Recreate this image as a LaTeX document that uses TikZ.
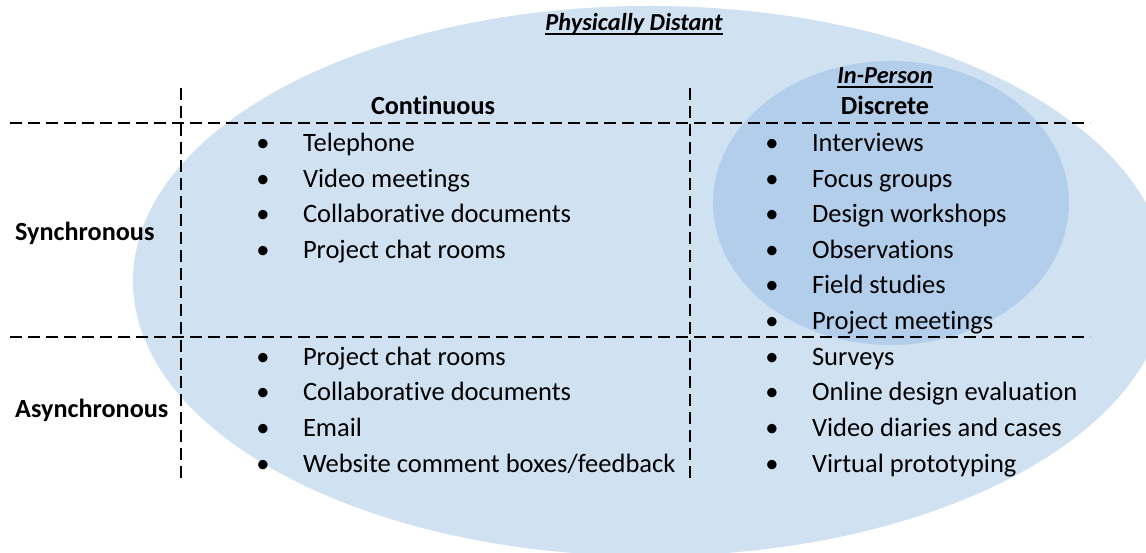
\documentclass[tikz,border=0pt]{standalone}
\usepackage{fontspec}
\setmainfont{Carlito}[Ligatures=NoCommon]

\definecolor{DistantBlue}{HTML}{D0E1F2}
\definecolor{PersonBlue}{HTML}{B2CEEA}

% underlined set name, rule a little below the baseline
\newcommand{\setunder}[1]{\setbox0\hbox{#1}\rlap{\rule[-3.6pt]{\wd0}{2pt}}\box0}

\begin{document}
\begin{tikzpicture}[x=1pt,y=-1pt]
  \tikzset{ItemStyle/.style = {
    anchor        = base west,
    inner sep     = 0pt,
    outer sep     = 0pt,
    text          = black,
    font          = \fontsize{26.5}{31}\selectfont,
    execute at begin node = {\makebox[0pt]{\textbullet}\hspace{40pt}}
    }
  }
  \tikzset{HeadStyle/.style = {
    anchor        = base,
    inner sep     = 0pt,
    text          = black,
    font          = \bfseries\fontsize{26.2}{31}\selectfont
    }
  }
  \tikzset{SideStyle/.style = {
    HeadStyle,
    anchor        = base west
    }
  }
  \tikzset{SetStyle/.style = {
    HeadStyle,
    font          = \bfseries\itshape\fontsize{24.4}{29}\selectfont
    }
  }
  \tikzset{GridStyle/.style = {
    draw          = black,
    line width    = 2pt,
    dash pattern  = on 12pt off 6pt
    }
  }

  \useasboundingbox (0,0) rectangle (1146,553);
  \clip (0,0) rectangle (1146,553);

  % the two sets
  \fill[DistantBlue] (650,281) ellipse [x radius=517, y radius=275];
  \fill[PersonBlue] (891,203) ellipse [x radius=178, y radius=142];

  % grid
  \coordinate (h1w) at (10,123);
  \coordinate (h1e) at (1090,123);
  \coordinate (h2w) at (10,337);
  \coordinate (h2e) at (1090,337);
  \coordinate (v1n) at (181,88);
  \coordinate (v1s) at (181,480);
  \coordinate (v2n) at (690,88);
  \coordinate (v2s) at (690,480);
  \draw[GridStyle] (h1w) -- (h1e);
  \draw[GridStyle] (h2w) -- (h2e);
  \draw[GridStyle] (v1n) -- (v1s);
  \draw[GridStyle] (v2n) -- (v2s);

  % headings
  \node[SetStyle](dist) at (634,31) {\setunder{Physically Distant}};
  \node[SetStyle](pers) at (885,84) {\setunder{In-Person}};
  \node[HeadStyle](cont) at (433,115) {Continuous};
  \node[HeadStyle](disc) at (885,115) {Discrete};
  \node[SideStyle](sync) at (15,241) {Synchronous};
  \node[SideStyle](async) at (15,417) {Asynchronous};

  % continuous, synchronous
  \node[ItemStyle](cs1) at (263,152) {Telephone};
  \node[ItemStyle](cs2) at (263,188) {Video meetings};
  \node[ItemStyle](cs3) at (263,223) {Collaborative documents};
  \node[ItemStyle](cs4) at (263,259) {Project chat rooms};

  % discrete, synchronous
  \node[ItemStyle](ds1) at (772,152) {Interviews};
  \node[ItemStyle](ds2) at (772,188) {Focus groups};
  \node[ItemStyle](ds3) at (772,223) {Design workshops};
  \node[ItemStyle](ds4) at (772,259) {Observations};
  \node[ItemStyle](ds5) at (772,294) {Field studies};
  \node[ItemStyle](ds6) at (772,330) {Project meetings};

  % continuous, asynchronous
  \node[ItemStyle](ca1) at (263,365) {Project chat rooms};
  \node[ItemStyle](ca2) at (263,400) {Collaborative documents};
  \node[ItemStyle](ca3) at (263,436) {Email};
  \node[ItemStyle](ca4) at (263,472) {Website comment boxes/feedback};

  % discrete, asynchronous
  \node[ItemStyle](da1) at (772,365) {Surveys};
  \node[ItemStyle](da2) at (772,400) {Online design evaluation};
  \node[ItemStyle](da3) at (772,436) {Video diaries and cases};
  \node[ItemStyle](da4) at (772,472) {Virtual prototyping};

\end{tikzpicture}
\end{document}
